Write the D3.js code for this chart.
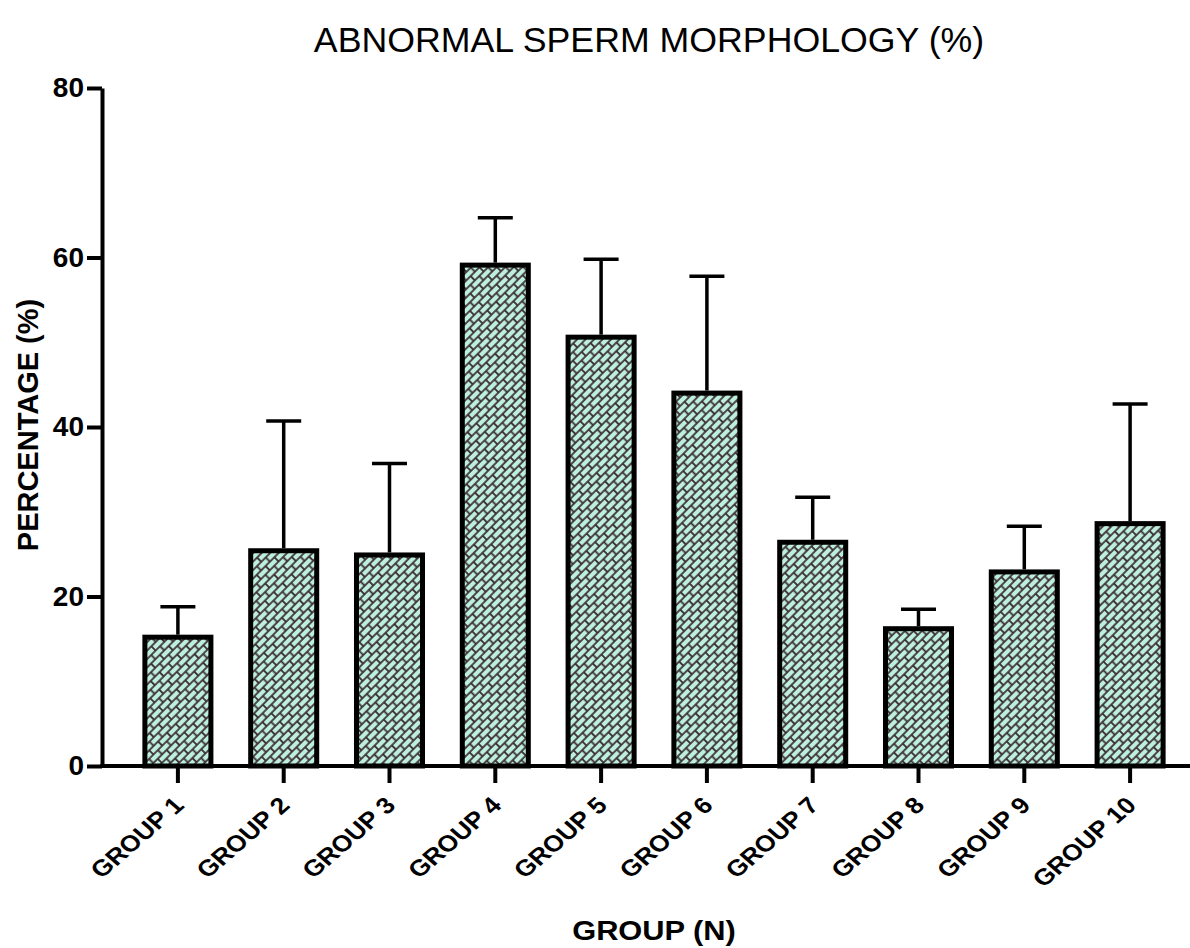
<!DOCTYPE html>
<html>
<head>
<meta charset="utf-8">
<script src="https://cdn.jsdelivr.net/npm/d3@7"></script>
<style>
  body { margin: 0; background: #fff; }
  text { font-family: "Liberation Sans", Arial, sans-serif; fill: #000; }
</style>
</head>
<body>
<svg id="chart" width="1190" height="948"></svg>
<script>
// data
const groups = ["GROUP 1", "GROUP 2", "GROUP 3", "GROUP 4", "GROUP 5",
                "GROUP 6", "GROUP 7", "GROUP 8", "GROUP 9", "GROUP 10"];
const means = [15.2, 25.4, 24.9, 59.1, 50.6, 44.0, 26.4, 16.2, 22.9, 28.6];
const errors = [3.6, 15.3, 10.8, 5.6, 9.2, 13.8, 5.3, 2.3, 5.4, 14.1];
const yTicks = [0, 20, 40, 60, 80];

const svg = d3.select("#chart");

// diagonal brick pattern for the bars
const defs = svg.append("defs");
const pat = defs.append("pattern")
  .attr("id", "brick")
  .attr("patternUnits", "userSpaceOnUse")
  .attr("width", 12.5)
  .attr("height", 12)
  .attr("patternTransform", "rotate(-45)");
pat.append("rect").attr("width", 12.5).attr("height", 12).attr("fill", "#3b2b2e");
[[0.9, 0.9], [7.15, 6.9], [-5.35, 6.9]].forEach(p => {
  pat.append("rect")
    .attr("x", p[0]).attr("y", p[1])
    .attr("width", 10.7).attr("height", 4.3)
    .attr("fill", "#bcefdf");
});

const x = d3.scaleBand()
  .domain(groups)
  .range([125, 1183])
  .paddingInner(0.376)
  .paddingOuter(0.188);

const y = d3.scaleLinear()
  .domain([0, 80])
  .range([766, 88]);

// bars
svg.append("g")
  .selectAll("rect")
  .data(groups)
  .join("rect")
  .attr("x", d => x(d))
  .attr("y", (d, i) => y(means[i]))
  .attr("width", x.bandwidth())
  .attr("height", (d, i) => y(0) - y(means[i]))
  .attr("fill", "url(#brick)")
  .attr("stroke", "#000")
  .attr("stroke-width", 5);

// error bars (upper only)
const eb = svg.append("g").attr("stroke", "#000").attr("stroke-width", 3.5);
groups.forEach((g, i) => {
  const cx = x(g) + x.bandwidth() / 2;
  eb.append("line")
    .attr("x1", cx).attr("x2", cx)
    .attr("y1", y(means[i]) - 2.5).attr("y2", y(means[i] + errors[i]));
  eb.append("line")
    .attr("x1", cx - 17.5).attr("x2", cx + 17.5)
    .attr("y1", y(means[i] + errors[i])).attr("y2", y(means[i] + errors[i]));
});

// y axis
const yAxis = svg.append("g")
  .attr("transform", "translate(102,0)")
  .call(d3.axisLeft(y).tickValues(yTicks).tickSize(15).tickSizeOuter(0).tickPadding(3));
yAxis.select(".domain").attr("stroke-width", 4);
yAxis.selectAll(".tick line").attr("stroke-width", 4);
yAxis.selectAll(".tick text")
  .style("font-family", "'Liberation Sans', Arial, sans-serif")
  .style("font-size", "28px")
  .style("font-weight", "bold")
  .attr("fill", "#000");

// x axis
const xAxis = svg.append("g")
  .attr("transform", "translate(0,766)")
  .call(d3.axisBottom(x).tickSize(17).tickSizeOuter(0));
xAxis.select(".domain").remove();
xAxis.selectAll(".tick line").attr("stroke-width", 4);
xAxis.selectAll(".tick text").remove();
xAxis.selectAll(".tick").append("text")
  .attr("transform", "translate(-6,29) scale(1.15,1) rotate(-45)")
  .attr("text-anchor", "end")
  .attr("dy", "0.72em")
  .style("font-size", "23px")
  .style("font-weight", "bold")
  .text(d => d);
svg.append("line")
  .attr("x1", 100).attr("x2", 1190)
  .attr("y1", 766).attr("y2", 766)
  .attr("stroke", "#000")
  .attr("stroke-width", 4);

// title and axis labels
svg.append("text")
  .attr("transform", "translate(649,52) scale(1.02,1)")
  .attr("text-anchor", "middle")
  .style("font-size", "35px")
  .text("ABNORMAL SPERM MORPHOLOGY (%)");

svg.append("text")
  .attr("transform", "translate(38,425) rotate(-90)")
  .attr("text-anchor", "middle")
  .style("font-size", "29px")
  .style("font-weight", "bold")
  .text("PERCENTAGE (%)");

svg.append("text")
  .attr("transform", "translate(654,940) scale(1.1,1)")
  .attr("text-anchor", "middle")
  .style("font-size", "28px")
  .style("font-weight", "bold")
  .text("GROUP (N)");
</script>
</body>
</html>
